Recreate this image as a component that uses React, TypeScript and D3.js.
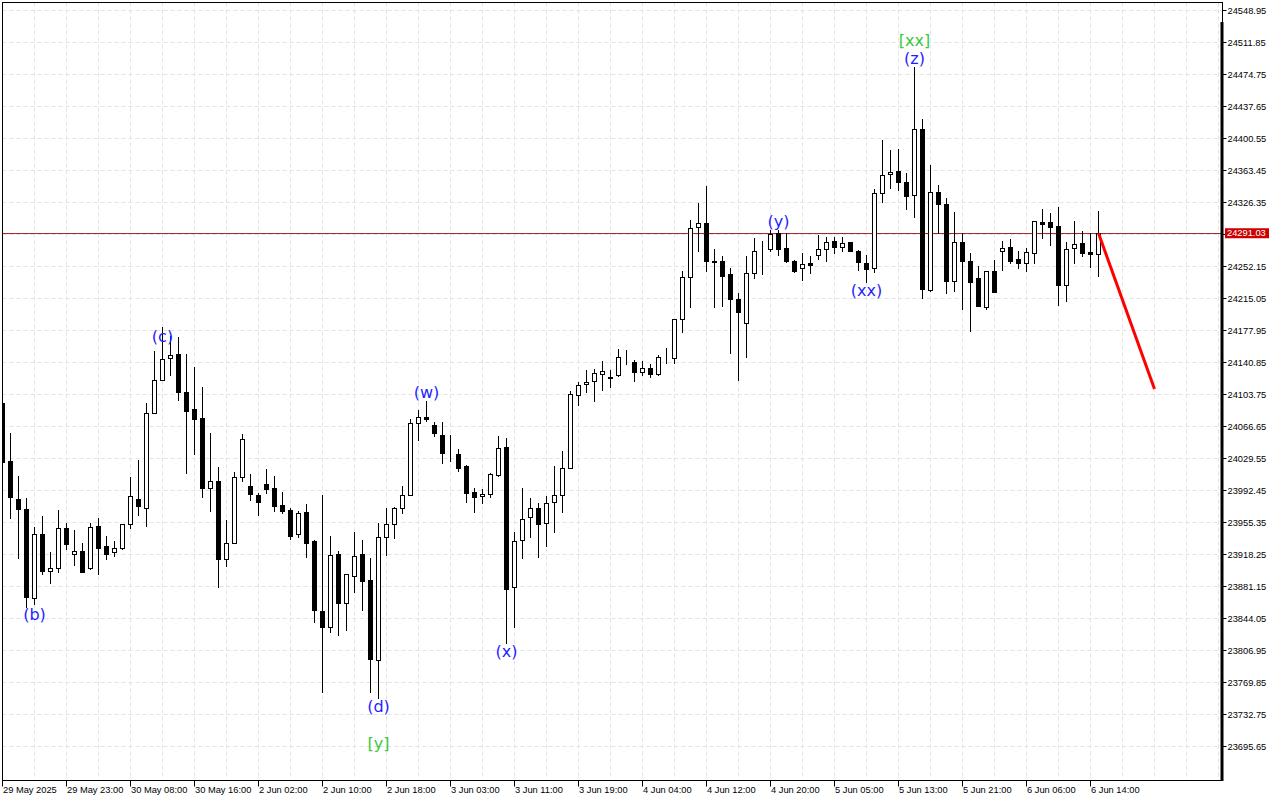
import React from "react";
import * as d3 from "d3";

const openP = [
  24094.3, 24027.1, 23983.1, 23971.5, 23868.0, 23942.5, 23899.3, 23902.8, 23949.4, 23919.7,
  23922.4, 23903.5, 23951.3, 23928.6, 23921.2, 23925.8, 23954.4, 23983.1, 23973.0, 24082.4,
  24120.6, 24146.1, 24151.3, 24107.0, 24087.4, 24077.0, 23995.4, 24003.5, 23913.8, 23931.7,
  24008.2, 23998.2, 23987.8, 24000.2, 23995.4, 23975.8, 23970.0, 23942.1, 23967.6, 23934.0,
  23853.3, 23834.4, 23918.9, 23862.9, 23894.1, 23918.9, 23888.8, 23796.4, 23939.4, 23954.4,
  23972.3, 23987.4, 24071.0, 24077.9, 24068.3, 24056.7, 24035.1, 24034.8, 24021.3, 23990.8,
  23986.2, 23988.6, 24011.3, 24042.9, 23881.4, 23935.2, 23962.7, 23972.3, 23955.6, 23979.0,
  23987.4, 24018.6, 24103.2, 24115.9, 24120.1, 24128.2, 24124.1, 24126.4, 24147.7, 24141.8,
  24130.3, 24134.7, 24128.2, 24146.1, 24146.1, 24191.3, 24240.1, 24298.0, 24302.6, 24259.3,
  24258.9, 24243.4, 24214.8, 24186.7, 24244.6, 24271.2, 24272.4, 24291.0, 24273.6, 24259.2,
  24251.1, 24256.8, 24265.8, 24272.8, 24282.4, 24275.4, 24280.6, 24271.0, 24256.4, 24250.6,
  24337.6, 24359.4, 24363.2, 24350.4, 24335.0, 24411.5, 24225.3, 24339.2, 24324.6, 24235.7,
  24280.6, 24258.5, 24239.0, 24205.9, 24247.0, 24270.1, 24274.7, 24261.2, 24256.4, 24267.8,
  24304.1, 24303.7, 24299.4, 24231.4, 24273.6, 24279.4, 24269.3, 24266.6,
];
const highP = [
  24095.5, 24059.2, 24009.7, 23983.9, 23951.0, 23963.4, 23921.6, 23970.3, 23955.6, 23947.1,
  23931.6, 23954.8, 23961.1, 23940.2, 23934.0, 23954.4, 24008.2, 24028.1, 24094.0, 24154.6,
  24182.8, 24172.3, 24170.4, 24151.3, 24136.4, 24113.2, 24059.2, 24020.4, 23958.7, 24014.7,
  24058.4, 24012.4, 23989.7, 24017.5, 24009.7, 23991.5, 23972.3, 23969.1, 23977.3, 23935.2,
  23987.8, 23940.2, 23922.8, 23896.0, 23944.5, 23935.2, 23914.3, 23954.9, 23973.0, 23974.2,
  23998.2, 24075.8, 24086.4, 24097.0, 24072.2, 24072.2, 24056.9, 24040.7, 24022.4, 23995.4,
  23994.4, 24012.8, 24055.5, 24053.2, 23944.5, 23995.4, 23983.9, 23978.3, 23986.5, 24021.3,
  24038.6, 24108.2, 24118.3, 24132.5, 24133.7, 24143.3, 24132.5, 24156.7, 24155.7, 24144.5,
  24142.5, 24139.8, 24149.9, 24157.7, 24191.6, 24247.7, 24306.5, 24325.8, 24345.8, 24272.8,
  24264.7, 24250.6, 24222.1, 24264.1, 24286.0, 24281.5, 24294.8, 24294.8, 24291.0, 24260.0,
  24268.2, 24264.1, 24289.1, 24287.2, 24287.2, 24287.2, 24281.2, 24271.2, 24265.8, 24342.2,
  24399.1, 24387.5, 24388.3, 24360.5, 24484.1, 24423.1, 24370.1, 24346.9, 24332.2, 24315.7,
  24291.0, 24268.2, 24253.3, 24247.3, 24260.0, 24282.0, 24284.4, 24271.0, 24273.6, 24305.3,
  24319.1, 24314.1, 24321.8, 24280.6, 24305.3, 24293.3, 24291.0, 24316.8,
];
const lowP = [
  24024.0, 23961.4, 23915.0, 23857.9, 23861.4, 23896.0, 23885.3, 23898.8, 23924.7, 23906.8,
  23898.5, 23901.9, 23896.0, 23913.8, 23917.5, 23925.6, 23949.1, 23964.5, 23952.1, 24082.2,
  24120.4, 24126.9, 24097.8, 24013.7, 24035.1, 23984.9, 23969.5, 23881.4, 23905.6, 23931.5,
  24004.2, 23981.9, 23964.5, 23989.7, 23969.5, 23966.8, 23936.8, 23939.4, 23916.1, 23840.8,
  23759.7, 23829.3, 23825.5, 23831.3, 23875.3, 23854.4, 23759.7, 23752.4, 23918.1, 23938.2,
  23967.2, 23987.1, 24051.4, 24072.9, 24055.5, 24025.0, 24027.3, 24015.1, 23979.0, 23968.3,
  23978.3, 23984.9, 24009.7, 23815.6, 23835.1, 23914.3, 23938.6, 23916.1, 23928.9, 23944.2,
  23968.3, 24018.4, 24092.0, 24107.4, 24097.0, 24109.7, 24112.4, 24126.1, 24139.1, 24120.1,
  24126.9, 24124.8, 24126.8, 24140.3, 24141.0, 24177.0, 24205.9, 24271.0, 24247.7, 24205.9,
  24206.7, 24152.6, 24121.3, 24148.0, 24239.0, 24243.4, 24271.0, 24265.8, 24258.1, 24246.1,
  24236.9, 24244.6, 24261.7, 24258.9, 24267.7, 24271.0, 24270.7, 24248.6, 24235.1, 24246.5,
  24327.6, 24343.8, 24341.2, 24318.8, 24309.5, 24216.3, 24224.4, 24291.0, 24221.4, 24224.4,
  24203.6, 24178.1, 24206.2, 24203.6, 24222.4, 24248.6, 24256.9, 24251.1, 24247.6, 24256.4,
  24285.9, 24277.4, 24207.9, 24212.9, 24256.4, 24265.0, 24252.2, 24241.8,
];
const closeP = [
  24026.3, 23984.9, 23971.1, 23869.4, 23942.5, 23899.7, 23902.8, 23949.4, 23930.6, 23922.4,
  23898.8, 23950.2, 23926.5, 23919.7, 23925.8, 23953.6, 23986.5, 23974.7, 24082.4, 24120.6,
  24145.2, 24150.1, 24106.7, 24085.4, 24075.8, 23996.2, 24003.5, 23913.8, 23931.7, 24008.2,
  24052.6, 23988.6, 23979.9, 23994.7, 23975.3, 23969.5, 23940.6, 23966.4, 23932.4, 23854.4,
  23835.1, 23918.1, 23862.9, 23895.6, 23917.3, 23888.3, 23797.3, 23939.4, 23953.8, 23972.3,
  23987.4, 24071.5, 24077.9, 24075.6, 24059.2, 24035.9, 24034.6, 24019.3, 23990.4, 23985.7,
  23988.6, 24012.4, 24041.9, 23879.1, 23934.7, 23959.6, 23972.3, 23954.4, 23978.3, 23987.4,
  24018.6, 24104.4, 24114.8, 24118.9, 24129.4, 24131.6, 24123.6, 24147.5, 24147.3, 24130.3,
  24134.7, 24128.2, 24147.5, 24145.9, 24191.3, 24240.8, 24297.5, 24302.6, 24259.3, 24258.2,
  24241.9, 24214.5, 24199.4, 24244.6, 24271.0, 24271.7, 24289.8, 24272.4, 24258.9, 24247.3,
  24255.0, 24253.7, 24272.4, 24281.2, 24274.7, 24280.1, 24271.0, 24257.6, 24249.9, 24337.6,
  24358.0, 24362.4, 24350.8, 24334.5, 24411.5, 24226.1, 24339.2, 24324.6, 24236.0, 24280.6,
  24258.5, 24235.0, 24206.7, 24247.0, 24222.7, 24273.6, 24259.2, 24256.4, 24269.0, 24305.0,
  24302.2, 24298.6, 24231.4, 24272.4, 24278.2, 24268.5, 24266.6, 24291.03,
];

const timeLabels = [
  "29 May 2025", "29 May 23:00", "30 May 08:00", "30 May 16:00", "2 Jun 02:00", "2 Jun 10:00",
  "2 Jun 18:00", "3 Jun 03:00", "3 Jun 11:00", "3 Jun 19:00", "4 Jun 04:00", "4 Jun 12:00",
  "4 Jun 20:00", "5 Jun 05:00", "5 Jun 13:00", "5 Jun 21:00", "6 Jun 06:00", "6 Jun 14:00",
];
const timeLabelBars = [0, 8, 16, 24, 32, 40, 48, 56, 64, 72, 80, 88, 96, 104, 112, 120, 128, 136];

const priceTicks = [
  24548.95, 24511.85, 24474.75, 24437.65, 24400.55, 24363.45, 24326.35, 24289.25,
  24252.15, 24215.05, 24177.95, 24140.85, 24103.75, 24066.65, 24029.55, 23992.45,
  23955.35, 23918.25, 23881.15, 23844.05, 23806.95, 23769.85, 23732.75, 23695.65,
];

const lastPrice = 24291.03;

const annText = ["(b)", "(c)", "(d)", "[y]", "(w)", "(x)", "(y)", "(xx)", "(z)", "[xx]"];
const annBar = [4, 20, 47, 47, 53, 63, 97, 108, 114, 114];
const annPrice = [23849.7, 24170.8, 23743.1, 23700.2, 24107.0, 23805.7, 24305.2, 24224.1, 24493.0, 24515.0];
const annGreen = [false, false, false, true, false, false, false, false, false, true];

const forecastBars = [137, 144];
const forecastPrices = [24291.03, 24110.5];

const W = 1280;
const H = 800;
const PL = 2.5;
const PT = 2.5;
const PR = 1222.5;
const PB = 780.5;

export default function App() {
  const x = d3.scaleLinear().domain([0, 1]).range([2.5, 10.5]);
  const y = d3.scaleLinear().domain([23695.65, 24548.95]).range([746.95, 10.71]);
  const crisp = (v: number) => Math.round(v - 0.5) + 0.5;

  const gridXs: number[] = [];
  for (let k = 0; ; k++) {
    const gx = x(k * 4);
    if (gx >= PR) break;
    gridXs.push(gx);
  }

  const line = d3
    .line<number>()
    .x((_, i) => x(forecastBars[i]))
    .y((d) => y(d));

  const font = "'Liberation Sans', Arial, sans-serif";

  return (
    <div style={{ position: "fixed", left: 0, top: 0, width: W, height: H, background: "#fff" }}>
      <svg width={W} height={H} style={{ display: "block" }}>
        <rect x={0} y={0} width={W} height={H} fill="#fff" />
        <defs>
          <clipPath id="plot">
            <rect x={PL} y={PT} width={PR - PL} height={PB - PT} />
          </clipPath>
        </defs>
        {/* grid */}
        <g stroke="#e3e3e3" strokeWidth={1} strokeDasharray="4,3">
          {gridXs.map((gx, i) => (
            <line key={"gx" + i} x1={gx} x2={gx} y1={PT} y2={PB} />
          ))}
          {priceTicks.map((p, i) => (
            <line key={"gy" + i} x1={PL} x2={PR} y1={crisp(y(p))} y2={crisp(y(p))} />
          ))}
        </g>
        {/* current price line */}
        <line x1={PL} x2={PR} y1={crisp(y(lastPrice))} y2={crisp(y(lastPrice))} stroke="#a52a2a" strokeWidth={1} />
        {/* candles */}
        <g clipPath="url(#plot)">
          {openP.map((o, i) => {
            const c = closeP[i];
            const cx = x(i);
            const yo = Math.round(y(o));
            const yc = Math.round(y(c));
            const yh = Math.round(y(highP[i]));
            const yl = Math.round(y(lowP[i]));
            const top = Math.min(yo, yc);
            const h = Math.abs(yo - yc);
            const bull = c >= o;
            return (
              <g key={i}>
                <line x1={cx} x2={cx} y1={yh} y2={yl + 1} stroke="#000" strokeWidth={1} />
                <rect
                  x={cx - 2}
                  y={top + 0.5}
                  width={4}
                  height={h}
                  fill={bull ? "#fff" : "#000"}
                  stroke="#000"
                  strokeWidth={1}
                />
              </g>
            );
          })}
        </g>
        {/* forecast arrow */}
        <path d={line(forecastPrices) || ""} stroke="#ff0000" strokeWidth={3} fill="none" />
        {/* annotations */}
        {annText.map((t, i) => (
          <text
            key={"a" + i}
            x={x(annBar[i])}
            y={y(annPrice[i])}
            textAnchor="middle"
            dominantBaseline="central"
            fontFamily="'DejaVu Sans', sans-serif"
            fontSize={16}
            fill={annGreen[i] ? "#3cc83c" : "#1e1eff"}
          >
            {t}
          </text>
        ))}
        {/* frame */}
        <rect x={PL} y={PT} width={PR - PL} height={PB - PT} fill="none" stroke="#000" strokeWidth={1} />
        <line x1={PR - 0.5} x2={PR - 0.5} y1={22} y2={PB + 0.5} stroke="#000" strokeWidth={3} />
        {/* right axis */}
        {priceTicks.map((p, i) => (
          <g key={"yt" + i}>
            <line x1={PR} x2={PR + 4} y1={crisp(y(p))} y2={crisp(y(p))} stroke="#000" />
            <text x={PR + 5} y={y(p)} dominantBaseline="central" fontFamily={font} fontSize={9.3} fill="#000">
              {p.toFixed(2)}
            </text>
          </g>
        ))}
        {/* last price label */}
        <rect x={1225} y={y(lastPrice) - 5} width={44} height={10} fill="#cc0000" />
        <text
          x={1227}
          y={y(lastPrice)}
          dominantBaseline="central"
          fontFamily={font}
          fontSize={9.3}
          fill="#fff"
        >
          {lastPrice.toFixed(2)}
        </text>
        {/* bottom axis */}
        {timeLabels.map((t, i) => {
          const tx = x(timeLabelBars[i]);
          return (
            <g key={"xt" + i}>
              <line x1={tx} x2={tx} y1={PB} y2={PB + 6} stroke="#000" />
              <text x={tx + 0.5} y={793} fontFamily={font} fontSize={9.3} fill="#000">
                {t}
              </text>
            </g>
          );
        })}
      </svg>
    </div>
  );
}
